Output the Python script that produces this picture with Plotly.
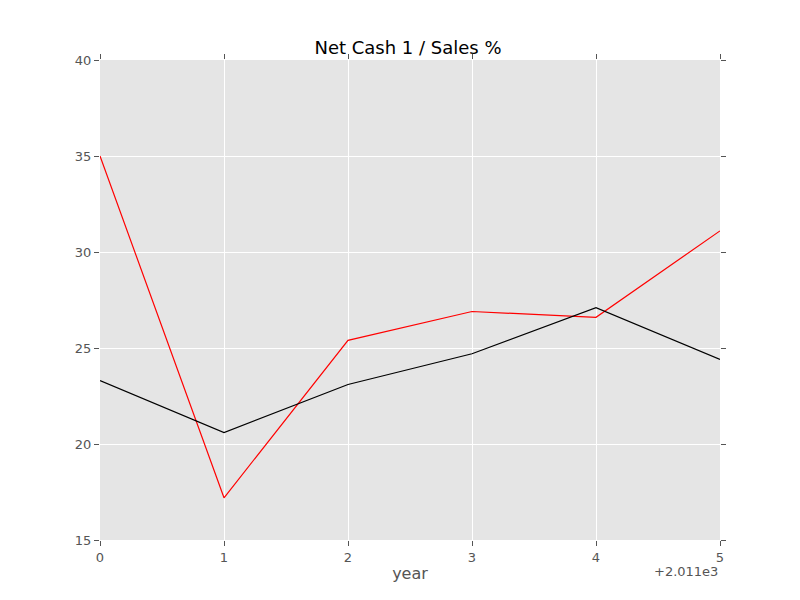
import plotly.graph_objects as go

years = [2011, 2012, 2013, 2014, 2015, 2016]
tick_labels = ["0", "1", "2", "3", "4", "5"]
red_values = [35.0, 17.2, 25.4, 26.9, 26.6, 31.1]
black_values = [23.3, 20.6, 23.1, 24.7, 27.1, 24.4]

fig = go.Figure()
fig.add_trace(go.Scatter(x=years, y=red_values, mode="lines",
                         line=dict(color="red", width=1.2)))
fig.add_trace(go.Scatter(x=years, y=black_values, mode="lines",
                         line=dict(color="black", width=1.2)))

axis_common = dict(showgrid=True, gridcolor="white", gridwidth=1, zeroline=False,
                   ticks="outside", ticklen=5, tickcolor="#555", mirror="ticks",
                   showline=False, tickfont=dict(size=13, color="#555"))
fig.update_layout(
    width=800, height=600,
    margin=dict(l=92, r=88, t=52, b=68),
    paper_bgcolor="white", plot_bgcolor="#e5e5e5",
    showlegend=False,
    font=dict(family="DejaVu Sans"),
    title=dict(text="Net Cash 1 / Sales %", x=0.5, xanchor="center", y=0.945,
               font=dict(size=18, color="black")),
    xaxis=dict(range=[2011, 2016], tickvals=years, ticktext=tick_labels,
               title=dict(text="year", font=dict(size=16, color="#555"), standoff=4),
               **axis_common),
    yaxis=dict(range=[15, 40], dtick=5, **axis_common),
)
fig.add_annotation(text="+2.011e3", xref="paper", yref="paper", x=1, y=-0.045,
                   xanchor="right", yanchor="top", showarrow=False,
                   font=dict(size=13, color="#555"))
fig.write_html("out.html")
